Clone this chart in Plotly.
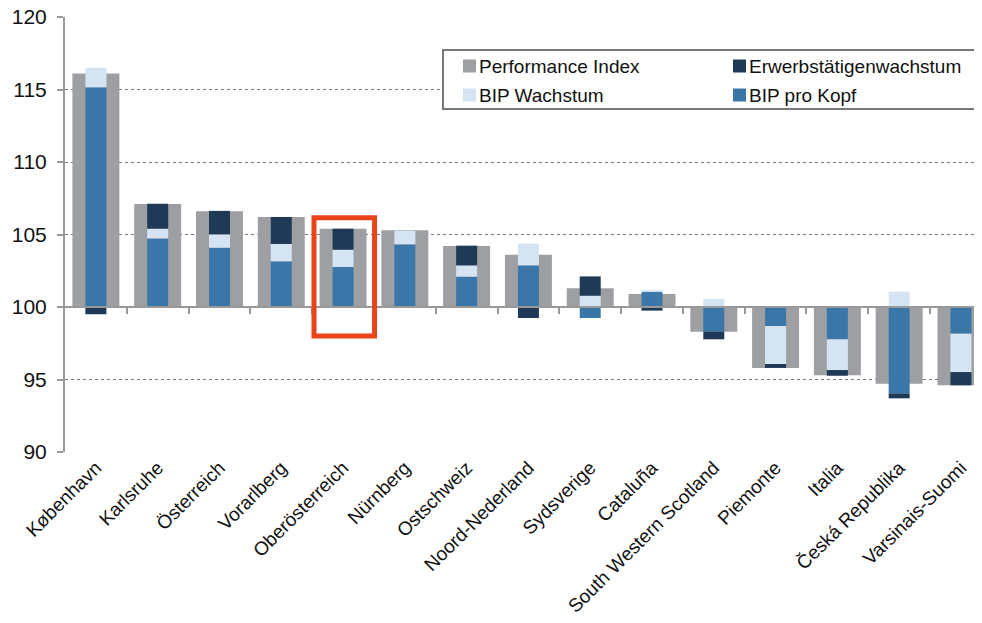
import numpy as np
import plotly.graph_objects as go

# Regionen und Werte (Index = 100)
regions = ["København", "Karlsruhe", "Österreich", "Vorarlberg", "Oberösterreich",
           "Nürnberg", "Ostschweiz", "Noord-Nederland", "Sydsverige", "Cataluña",
           "South Western Scotland", "Piemonte", "Italia", "Česká Republika",
           "Varsinais-Suomi"]
performance = [116.1, 107.1, 106.6, 106.2, 105.4, 105.3, 104.2, 103.6, 101.3,
               100.9, 98.3, 95.8, 95.3, 94.7, 94.6]
bip_kopf = [15.15, 4.73, 4.09, 3.15, 2.76, 4.32, 2.09, 2.87, -0.76, 1.06,
            -1.70, -1.31, -2.23, -5.96, -1.84]
bip_wachstum = [1.35, 0.67, 0.92, 1.20, 1.19, 0.94, 0.78, 1.50, 0.78, 0.10,
                0.55, -2.62, -2.12, 1.06, -2.65]
erwerbs = [-0.50, 1.72, 1.62, 1.86, 1.45, 0.0, 1.36, -0.76, 1.33, -0.25,
           -0.53, -0.27, -0.39, -0.34, -0.91]

BASE = 100
GRAY = "#9E9FA3"
NAVY = "#1F3A56"
LIGHT = "#D4E4F2"
BLUE = "#3A77A8"
FONT = "Liberation Sans"

# page body has an 8px margin, so the figure is offset by that
OFF = 8
W, H = 982, 623
ML, MR, MT, MB = 57, 0, 9, 179

x = np.arange(len(regions))
perf_delta = np.array(performance) - BASE
x_range = [-0.5, 14.47]

fig = go.Figure()

# wide gray bars, drawn from 100
fig.add_trace(go.Bar(x=x, y=perf_delta, base=BASE, width=0.76,
                     marker=dict(color=GRAY, line=dict(width=0)),
                     name="Performance Index", xaxis="x", yaxis="y"))

# narrow stacked components on an overlaid subplot (offsets from 100)
series = [(bip_kopf, BLUE, "BIP pro Kopf"),
          (bip_wachstum, LIGHT, "BIP Wachstum"),
          (erwerbs, NAVY, "Erwerbstätigenwachstum")]
for vals, col, nm in series:
    fig.add_trace(go.Bar(x=x, y=vals, width=0.34,
                         marker=dict(color=col, line=dict(width=0)),
                         name=nm, xaxis="x2", yaxis="y2"))


def px(xp):
    return (xp - OFF - ML) / (W - ML - MR)


def py(yp):
    return (H - MB - (yp - OFF)) / (H - MT - MB)


# legend box (2 x 2 like the original)
shapes = [dict(type="rect", xref="paper", yref="paper",
               x0=px(443), x1=px(979), y0=py(50), y1=py(109),
               line=dict(color="#777", width=2), fillcolor="white", layer="above")]
annotations = []
legend_items = [("Performance Index", GRAY, 463, 66),
                ("Erwerbstätigenwachstum", NAVY, 733, 66),
                ("BIP Wachstum", LIGHT, 463, 95),
                ("BIP pro Kopf", BLUE, 733, 95)]
for label, col, lx, ly in legend_items:
    shapes.append(dict(type="rect", xref="paper", yref="paper",
                       x0=px(lx), x1=px(lx + 13), y0=py(ly - 6.5), y1=py(ly + 6.5),
                       line=dict(width=0), fillcolor=col, layer="above"))
    annotations.append(dict(xref="paper", yref="paper", x=px(lx + 14), y=py(ly),
                            xanchor="left", yanchor="middle", showarrow=False,
                            text=label, font=dict(family=FONT, size=19, color="#111")))

# red highlight box around Oberösterreich
shapes.append(dict(type="rect", xref="x", yref="y", x0=3.53, x1=4.51, y0=98.0, y1=106.15,
                   line=dict(color="#E8441A", width=5), fillcolor="rgba(0,0,0,0)",
                   layer="above"))

fig.update_layout(
    width=W, height=H,
    margin=dict(l=ML, r=MR, t=MT, b=MB, autoexpand=False),
    paper_bgcolor="white", plot_bgcolor="white",
    barmode="relative",
    font=dict(family=FONT, size=19, color="#111"),
    showlegend=False,
    xaxis=dict(range=x_range, tickvals=list(x), ticktext=regions, tickangle=-45,
               showline=False, showgrid=False, zeroline=False, ticks="",
               tickfont=dict(family=FONT, size=19, color="#111")),
    xaxis2=dict(range=x_range, overlaying="x", anchor="free", position=(BASE - 90) / 30,
                showline=True, linecolor="#999", linewidth=2,
                ticks="outside", ticklen=6, tickwidth=2, tickcolor="#999",
                tickvals=list(x[:-1] + 0.5), showticklabels=False,
                showgrid=False, zeroline=False),
    yaxis=dict(range=[90, 120], dtick=5, tick0=90,
               showgrid=True, gridcolor="#777", griddash="dot", gridwidth=1,
               showline=True, linecolor="#999", linewidth=2,
               ticks="outside", ticklen=6, tickwidth=2, tickcolor="#999",
               ticklabelstandoff=6, ticklabeloverflow="allow", zeroline=False,
               tickfont=dict(family=FONT, size=21, color="#111")),
    yaxis2=dict(range=[90 - BASE, 120 - BASE], overlaying="y", visible=False),
    shapes=shapes,
    annotations=annotations,
)

fig.write_html("out.html")
